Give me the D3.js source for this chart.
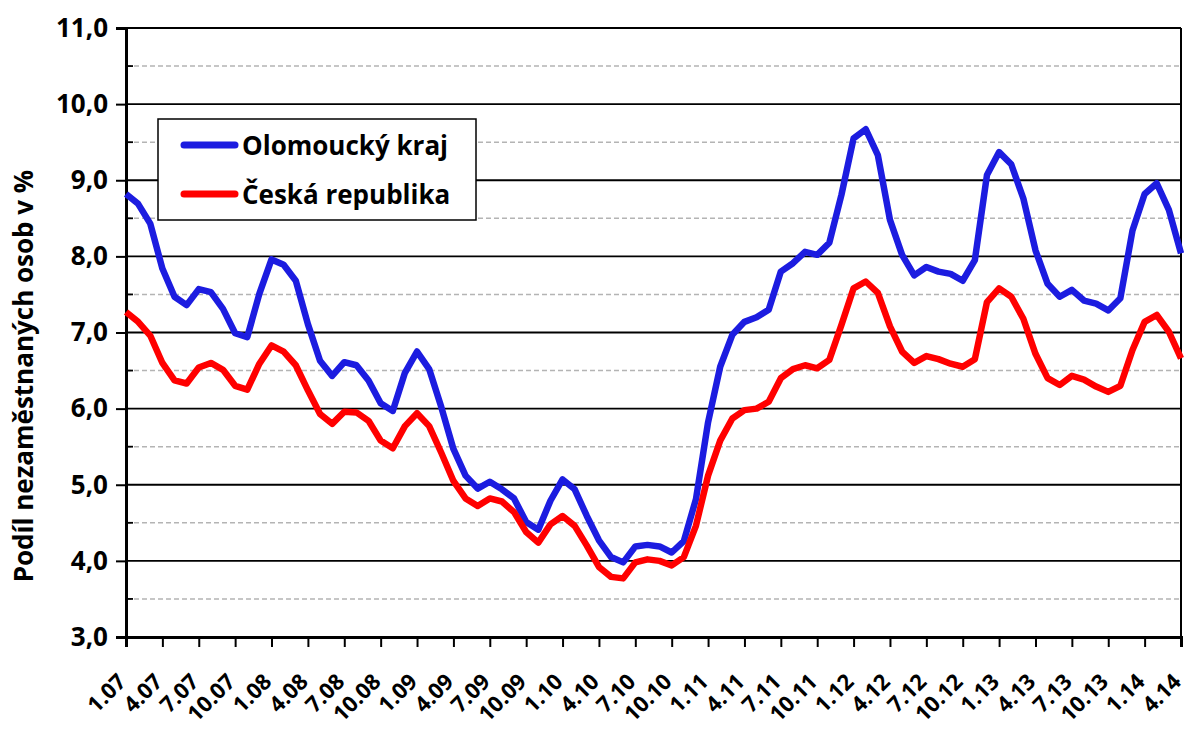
<!DOCTYPE html>
<html>
<head>
<meta charset="utf-8">
<script src="https://cdn.jsdelivr.net/npm/d3@7"></script>
<style>
  body { margin: 0; background: #fff; }
  svg { display: block; font-family: "Open Sans", sans-serif; font-weight: bold; }
</style>
</head>
<body>
<svg width="1189" height="729"></svg>
<script>
// monthly values 1.07 .. 4.14
var olomoucky = [8.82, 8.69, 8.43, 7.84, 7.47, 7.36, 7.57, 7.53, 7.31, 6.99, 6.94, 7.51,
    7.96, 7.89, 7.68, 7.11, 6.63, 6.43, 6.61, 6.57, 6.37, 6.07, 5.97, 6.47,
    6.75, 6.52, 6.02, 5.47, 5.12, 4.95, 5.04, 4.94, 4.82, 4.51, 4.41, 4.79,
    5.07, 4.94, 4.59, 4.27, 4.05, 3.98, 4.19, 4.21, 4.19, 4.11, 4.26, 4.81,
    5.82, 6.55, 6.97, 7.14, 7.20, 7.30, 7.80, 7.91, 8.06, 8.02, 8.18, 8.81,
    9.55, 9.67, 9.33, 8.48, 8.02, 7.75, 7.86, 7.80, 7.77, 7.68, 7.95, 9.07,
    9.37, 9.21, 8.76, 8.08, 7.64, 7.47, 7.56, 7.42, 7.38, 7.29, 7.45, 8.34,
    8.82, 8.96, 8.61, 8.04];
var ceskaRepublika = [7.27, 7.14, 6.96, 6.60, 6.37, 6.33, 6.54, 6.60, 6.51, 6.30, 6.25, 6.59,
    6.83, 6.75, 6.57, 6.24, 5.93, 5.80, 5.96, 5.95, 5.84, 5.58, 5.48, 5.77,
    5.94, 5.77, 5.42, 5.05, 4.82, 4.72, 4.82, 4.78, 4.64, 4.38, 4.24, 4.48,
    4.59, 4.46, 4.20, 3.92, 3.79, 3.77, 3.98, 4.02, 4.00, 3.94, 4.05, 4.46,
    5.12, 5.58, 5.87, 5.98, 6.00, 6.09, 6.40, 6.52, 6.57, 6.53, 6.64, 7.10,
    7.58, 7.67, 7.52, 7.08, 6.75, 6.60, 6.69, 6.65, 6.59, 6.55, 6.65, 7.40,
    7.58, 7.47, 7.18, 6.72, 6.40, 6.31, 6.43, 6.38, 6.29, 6.22, 6.30, 6.77,
    7.14, 7.23, 7.01, 6.66];
var tickLabels = ["1.07","4.07","7.07","10.07","1.08","4.08","7.08","10.08",
    "1.09","4.09","7.09","10.09","1.10","4.10","7.10","10.10","1.11","4.11",
    "7.11","10.11","1.12","4.12","7.12","10.12","1.13","4.13","7.13","10.13",
    "1.14","4.14"];
var seriesNames = ["Olomoucký kraj", "Česká republika"];
var seriesColors = ["#1c1ce0", "#ff0000"];

var svg = d3.select("svg");
var plotLeft = 126, plotRight = 1181, plotTop = 28, plotBottom = 637;

var x = d3.scaleLinear().domain([0, olomoucky.length - 1]).range([plotLeft, plotRight]);
var y = d3.scaleLinear().domain([3, 11]).range([plotBottom, plotTop]);
var fmt = function(d) { return d3.format(".1f")(d).replace(".", ","); };

// grid
var g = svg.append("g");
g.selectAll("line.minor")
    .data(d3.range(3.5, 11, 1))
    .enter().append("line")
    .attr("x1", plotLeft).attr("x2", plotRight)
    .attr("y1", function(d) { return y(d); }).attr("y2", function(d) { return y(d); })
    .attr("stroke", "#b4b4b4").attr("stroke-width", 1.5).attr("stroke-dasharray", "5,3");
g.selectAll("line.major")
    .data(d3.range(4, 12, 1))
    .enter().append("line")
    .attr("x1", plotLeft).attr("x2", plotRight)
    .attr("y1", function(d) { return y(d); }).attr("y2", function(d) { return y(d); })
    .attr("stroke", "#000").attr("stroke-width", 1.8);
// right border
g.append("line").attr("x1", plotRight).attr("x2", plotRight).attr("y1", plotTop).attr("y2", plotBottom)
    .attr("stroke", "#000").attr("stroke-width", 2);

// minor ticks inside y axis
g.selectAll("line.mt")
    .data(d3.range(3.5, 11, 1))
    .enter().append("line")
    .attr("x1", plotLeft).attr("x2", plotLeft + 7)
    .attr("y1", function(d) { return y(d); }).attr("y2", function(d) { return y(d); })
    .attr("stroke", "#000").attr("stroke-width", 1.8);

// y axis
var yAxis = svg.append("g")
    .attr("transform", "translate(" + plotLeft + ",0)")
    .call(d3.axisLeft(y).tickValues(d3.range(3, 12, 1)).tickFormat(fmt).tickSize(10).tickPadding(8));
yAxis.select(".domain").attr("stroke-width", 3);
yAxis.selectAll(".tick line").attr("stroke-width", 2);
yAxis.selectAll("text").attr("font-size", 26).attr("font-family", "Open Sans").attr("font-weight", "bold").attr("fill", "#000");

// x axis
var xAxis = svg.append("g")
    .attr("transform", "translate(0," + plotBottom + ")")
    .call(d3.axisBottom(x).tickValues(d3.range(0, olomoucky.length, 3))
        .tickFormat(function(d, i) { return tickLabels[i]; }).tickSize(10));
xAxis.select(".domain").attr("stroke-width", 3);
xAxis.selectAll(".tick line").attr("stroke-width", 2);
xAxis.selectAll("text")
    .attr("font-size", 22).attr("font-family", "Open Sans").attr("font-weight", "bold").attr("fill", "#000")
    .attr("text-anchor", "end")
    .attr("dy", null)
    .attr("y", 0)
    .attr("transform", "translate(1,46) rotate(-45)");

// lines
var line = d3.line()
    .x(function(d, i) { return x(i); })
    .y(function(d) { return y(d); });
[olomoucky, ceskaRepublika].forEach(function(s, k) {
    svg.append("path")
        .datum(s)
        .attr("d", line)
        .attr("fill", "none")
        .attr("stroke", seriesColors[k])
        .attr("stroke-width", 6.5)
        .attr("stroke-linejoin", "round");
});

// y title
svg.append("text")
    .attr("transform", "translate(33,376) rotate(-90)")
    .attr("text-anchor", "middle")
    .attr("font-size", 26)
    .text("Podíl nezaměstnaných osob v %");

// legend
var legend = svg.append("g");
legend.append("rect")
    .attr("x", 158).attr("y", 119).attr("width", 318).attr("height", 101)
    .attr("fill", "#fff").attr("stroke", "#000").attr("stroke-width", 1.5);
seriesNames.forEach(function(n, k) {
    var ly = 145 + k * 49;
    legend.append("line")
        .attr("x1", 184).attr("x2", 235).attr("y1", ly).attr("y2", ly)
        .attr("stroke", seriesColors[k]).attr("stroke-width", 7).attr("stroke-linecap", "round");
    legend.append("text")
        .attr("x", 242).attr("y", ly + 10)
        .attr("font-size", 26)
        .text(n);
});
</script>
</body>
</html>
